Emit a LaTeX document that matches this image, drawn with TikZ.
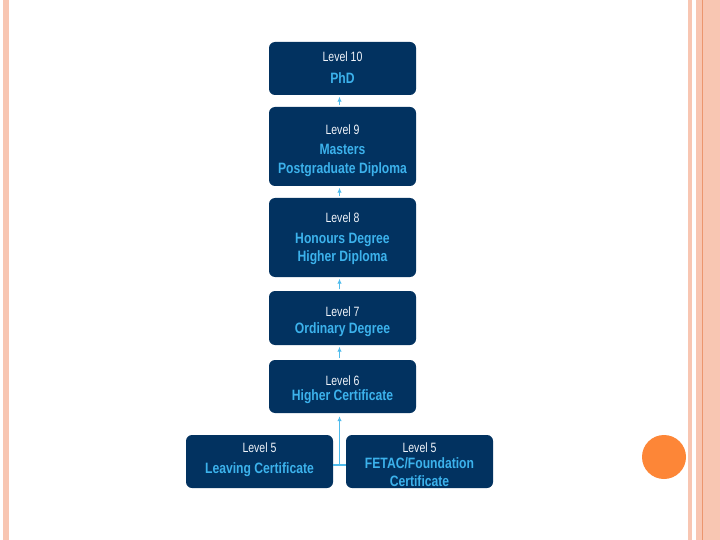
\documentclass[tikz,border=0pt]{standalone}
\usepackage{fontspec}
\newfontfamily\lvfont[FakeStretch=0.78]{Liberation Sans}
\newfontfamily\mainfont[FakeStretch=0.81]{Liberation Sans}
\usetikzlibrary{arrows.meta}
\definecolor{navy}{RGB}{2,50,96}
\definecolor{skyb}{RGB}{60,178,236}
\definecolor{linkb}{RGB}{80,188,236}
\definecolor{lvwhite}{RGB}{240,244,250}
\definecolor{stripe}{RGB}{248,198,178}
\definecolor{stripedark}{RGB}{236,150,110}
\definecolor{dot}{RGB}{253,134,55}
\tikzset{
  box/.style={fill=navy, draw=none, rounded corners=6pt, minimum width=147pt, inner sep=0pt},
  lv/.style={anchor=base, inner sep=0pt, text=lvwhite, font=\lvfont\fontsize{13.5}{15}\selectfont},
  mt/.style={anchor=base, inner sep=0pt, text=skyb, font=\mainfont\bfseries\fontsize{15}{17}\selectfont},
  link/.style={draw=linkb, line width=1.3pt},
  arr/.style={link, -{Latex[length=5pt,width=4.5pt]}, shorten <=1.5pt, shorten >=1.5pt}
}
\begin{document}
\begin{tikzpicture}[x=1pt,y=-1pt]
\useasboundingbox (0,0) rectangle (720,540);
\fill[white] (0,0) rectangle (720,540);
% decorative stripes
\fill[stripe] (3,0) rectangle (9,540);
\fill[stripe] (687.7,0) rectangle (692.3,540);
\fill[stripe] (695.7,0) rectangle (720,540);
\draw[stripedark, line width=0.9pt] (702.3,0) -- (702.3,540);
\fill[dot] (664,457) circle (22);
% boxes
\node[box, minimum height=53pt] (b10) at (342.5,68.5) {};
\node[box, minimum height=79pt] (b9) at (342.5,146.5) {};
\node[box, minimum height=79pt] (b8) at (342.5,237.5) {};
\node[box, minimum height=54pt] (b7) at (342.5,318) {};
\node[box, minimum height=53pt] (b6) at (342.5,386.5) {};
\node[box, minimum height=53pt] (b5l) at (259.5,461.5) {};
\node[box, minimum height=53pt] (b5r) at (419.5,461.5) {};
% texts
\node[lv] (t10a) at (342.5,61.7) {Level 10};
\node[mt] (t10b) at (342.5,84) {PhD};
\node[lv] (t9a) at (342.5,134.3) {Level 9};
\node[mt] (t9b) at (342.5,155) {Masters};
\node[mt] (t9c) at (342.5,173.3) {Postgraduate Diploma};
\node[lv] (t8a) at (342.5,222.7) {Level 8};
\node[mt] (t8b) at (342.5,243.7) {Honours Degree};
\node[mt] (t8c) at (342.5,261.7) {Higher Diploma};
\node[lv] (t7a) at (342.5,316.7) {Level 7};
\node[mt] (t7b) at (342.5,333) {Ordinary Degree};
\node[lv] (t6a) at (342.5,385) {Level 6};
\node[mt] (t6b) at (342.5,400.5) {Higher Certificate};
\node[lv] (t5la) at (259.5,452) {Level 5};
\node[mt] (t5lb) at (259.5,473) {Leaving Certificate};
\node[lv] (t5ra) at (419.5,452) {Level 5};
\node[mt] (t5rb) at (419.5,468.7) {FETAC/Foundation};
\node[mt] (t5rc) at (419.5,486.3) {Certificate};
% connectors
\coordinate (jx) at (339.5,0);
\coordinate (jy) at (0,465);
\draw[draw=linkb, line width=1.1pt] (b5l.east |- jy) -- (b5r.west |- jy);
\draw[draw=linkb, line width=1.1pt, -{Latex[length=5pt,width=4.5pt]}, shorten >=3pt] (jx |- jy) -- (b6.south -| jx);
\draw[arr] (b6.north -| jx) -- (b7.south -| jx);
\draw[arr] (b7.north -| jx) -- (b8.south -| jx);
\draw[arr] (b8.north -| jx) -- (b9.south -| jx);
\draw[arr] (b9.north -| jx) -- (b10.south -| jx);
\end{tikzpicture}
\end{document}
